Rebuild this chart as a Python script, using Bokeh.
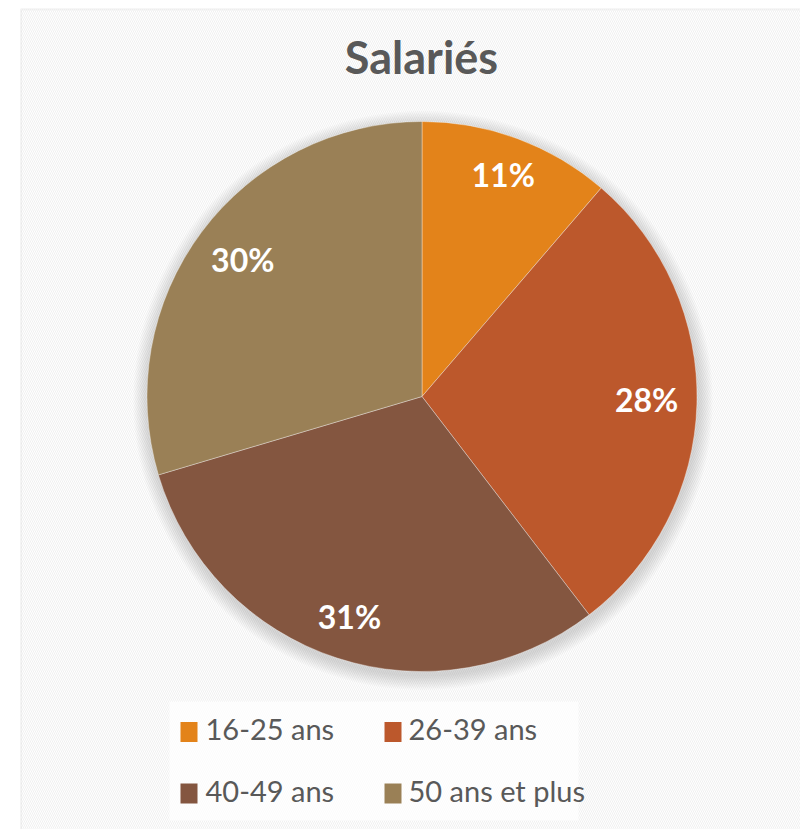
import math
from bokeh.plotting import figure
from bokeh.models import Range1d, BoxAnnotation, ColumnDataSource
from bokeh.core.properties import value
from bokeh.embed import file_html
from bokeh.resources import INLINE

# ---- data ----
title = "Salariés"
categories = ["16-25 ans", "26-39 ans", "40-49 ans", "50 ans et plus"]
shares = [11.3, 28.3, 30.8, 29.6]
colors = ["#E3831A", "#BC582C", "#845640", "#9A8056"]

W, H = 800, 829
OFF = 0  # page offset of the figure


def Y(ys):
    """screen y (page px) -> data y"""
    return (H + OFF) - ys


def X(xs):
    return xs


p = figure(width=W, height=H, output_backend="svg", toolbar_location=None,
           title=None,
           x_range=Range1d(OFF, OFF + W), y_range=Range1d(OFF, OFF + H),
           min_border=0, outline_line_color=None)
p.axis.visible = False
p.grid.visible = False
p.background_fill_color = "white"
p.border_fill_color = "white"

# chart area with hatch background + border
bg = BoxAnnotation(left=X(20.5), right=X(1000), top=Y(8.8), bottom=Y(1000),
                   fill_color="white", fill_alpha=1.0,
                   hatch_pattern="\\", hatch_color="#f0f0f0", hatch_scale=4,
                   hatch_weight=1.0, hatch_alpha=1.0,
                   line_color="#d9d9d9", line_width=2, level="underlay")
p.add_layout(bg)

# title
p.text(x=[X(421)], y=[Y(56)], text=[title], text_font=value("Lato"),
       text_font_style="bold", text_font_size="45px", text_color="#595959",
       text_align="center", text_baseline="middle")

# pie geometry
cx, cy, R = X(421.5), Y(396), 275

# shadow
for k in range(10):
    p.circle(x=[cx + 1], y=[cy - 4], radius=R + 1 + 1.5 * k,
             fill_color="#7f7f7f", fill_alpha=0.028, line_color=None)

total = sum(shares)
starts, ends, mids = [], [], []
cum = 0.0
for s in shares:
    a0 = math.pi / 2 - 2 * math.pi * cum / total
    cum += s
    a1 = math.pi / 2 - 2 * math.pi * cum / total
    starts.append(a0)
    ends.append(a1)
    mids.append((a0 + a1) / 2)

src = ColumnDataSource(dict(start=starts, end=ends, color=colors))
p.wedge(x=cx, y=cy, radius=R, start_angle="start", end_angle="end",
        direction="clock", fill_color="color", line_color="white",
        line_width=0.6, line_alpha=0.6, source=src)

# data labels (inside end)
lw, lh, margin = 32, 13, 18
lx, ly, lt = [], [], []
for s, m in zip(shares, mids):
    ext = lw * abs(math.cos(m)) + lh * abs(math.sin(m))
    d = R - margin - ext
    lx.append(cx + d * math.cos(m))
    ly.append(cy + d * math.sin(m) + 3)
    lt.append(f"{round(s)}%")
p.text(x=lx, y=ly, text=lt, text_font=value("Lato"), text_font_style="bold",
       text_font_size="32px", text_color="white", text_align="center",
       text_baseline="middle")

# legend box
leg = BoxAnnotation(left=X(169), right=X(578), top=Y(701), bottom=Y(820),
                    fill_color="white", fill_alpha=0.7, line_color=None,
                    level="underlay")
p.add_layout(leg)

mx, my, tx, ty = [], [], [], []
for i, c in enumerate(categories):
    col, row = i % 2, i // 2
    mx.append(X(188.5 + col * 204))
    my.append(Y(731.5 + row * 61.5))
    tx.append(X(205 + col * 203))
    ty.append(Y(728 + row * 62))
p.rect(x=mx, y=my, width=17, height=20, fill_color=colors, line_color=None)
p.text(x=tx, y=ty, text=categories, text_font=value("Lato"),
       text_font_size="29px", text_color="#595959", text_align="left",
       text_baseline="middle")

open("out.html", "w").write(file_html(p, INLINE))
